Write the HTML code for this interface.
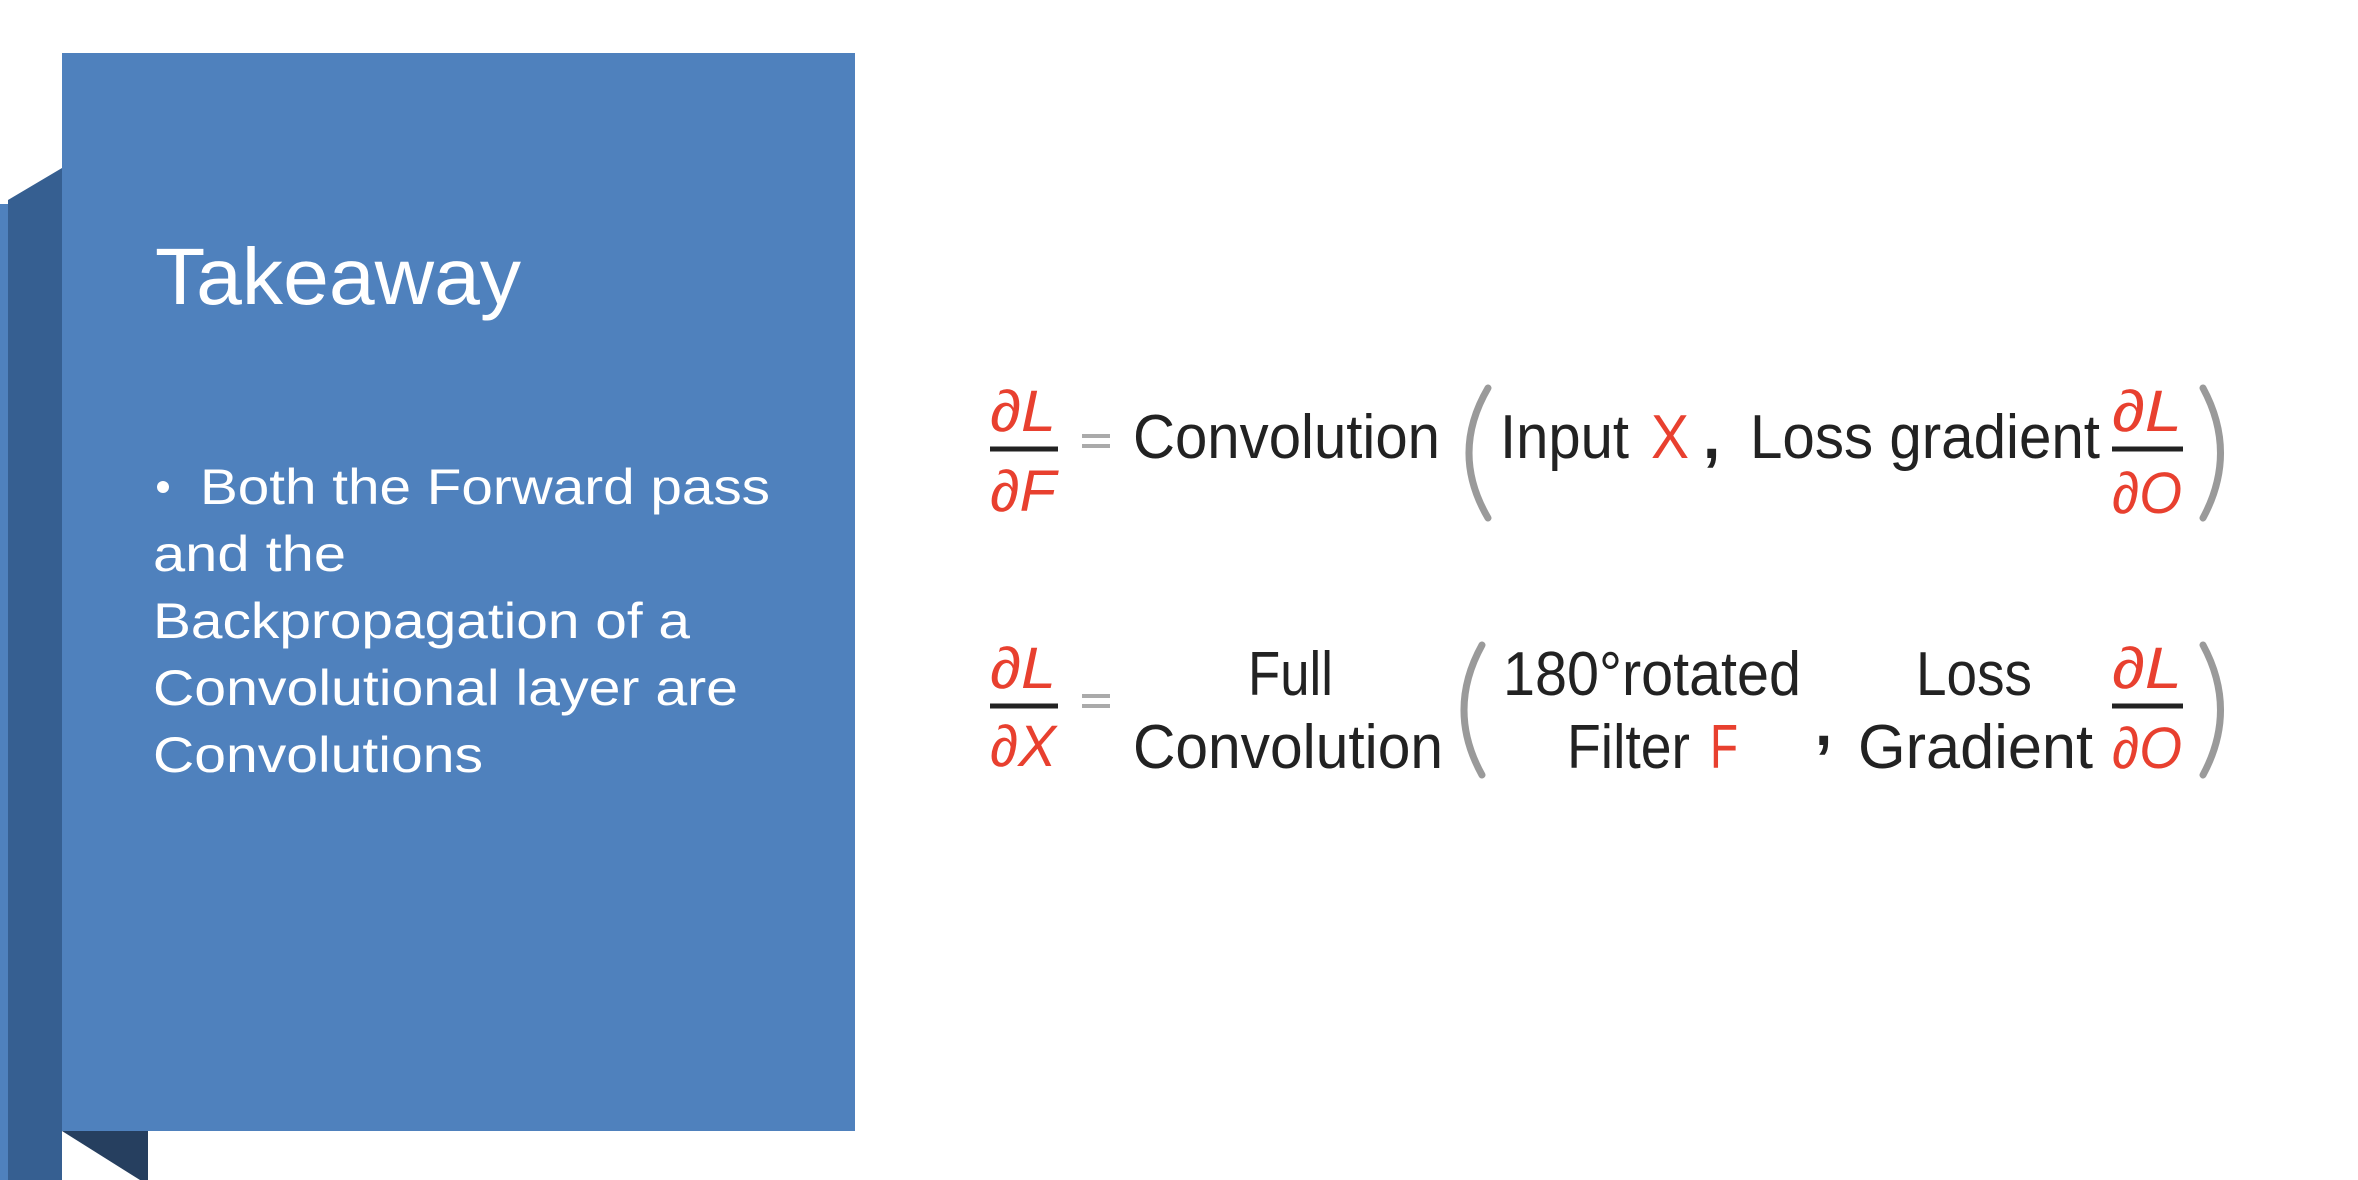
<!DOCTYPE html>
<html><head><meta charset="utf-8"><style>
html,body{margin:0;padding:0;background:#fff;}
body{width:2358px;height:1180px;position:relative;overflow:hidden;font-family:"Liberation Sans",sans-serif;}
</style></head><body>
<svg width="2358" height="1180" style="position:absolute;left:0;top:0">
  <polygon points="0,204 8,204 8,1180 0,1180" fill="#4f81bd"/>
  <polygon points="8,200 62,168 62,1180 8,1180" fill="#365f91"/>
  <polygon points="62,1131 148,1131 148,1180 140,1180" fill="#263f5f"/>
  <rect x="62" y="53" width="793" height="1078" fill="#4f81bd"/>
  <text x="155" y="304" font-size="80" fill="#fff" textLength="366" lengthAdjust="spacingAndGlyphs">Takeaway</text>
  <g font-size="50" fill="#fff">
    <circle cx="163" cy="487" r="6"/>
    <text x="200" y="504" textLength="570" lengthAdjust="spacingAndGlyphs">Both the Forward pass</text>
    <text x="153" y="571" textLength="193" lengthAdjust="spacingAndGlyphs">and the</text>
    <text x="153" y="638" textLength="537" lengthAdjust="spacingAndGlyphs">Backpropagation of a</text>
    <text x="153" y="705" textLength="585" lengthAdjust="spacingAndGlyphs">Convolutional layer are</text>
    <text x="153" y="772" textLength="330" lengthAdjust="spacingAndGlyphs">Convolutions</text>
  </g>
  <g fill="#e8402f" font-size="58" font-style="italic">
    <text x="990" y="431" textLength="66" lengthAdjust="spacingAndGlyphs">∂L</text>
    <text x="990" y="511" textLength="66" lengthAdjust="spacingAndGlyphs">∂F</text>
    <text x="2112" y="431" textLength="70" lengthAdjust="spacingAndGlyphs">∂L</text>
    <text x="2112" y="513" textLength="70" lengthAdjust="spacingAndGlyphs">∂O</text>
    <text x="990" y="688" textLength="66" lengthAdjust="spacingAndGlyphs">∂L</text>
    <text x="990" y="766" textLength="66" lengthAdjust="spacingAndGlyphs">∂X</text>
    <text x="2112" y="688" textLength="70" lengthAdjust="spacingAndGlyphs">∂L</text>
    <text x="2112" y="768" textLength="70" lengthAdjust="spacingAndGlyphs">∂O</text>
  </g>
  <g stroke="#222" stroke-width="5">
    <line x1="990" y1="449" x2="1058" y2="449"/>
    <line x1="2112" y1="449" x2="2183" y2="449"/>
    <line x1="990" y1="706" x2="1058" y2="706"/>
    <line x1="2112" y1="706" x2="2183" y2="706"/>
  </g>
  <g stroke="#aaa" stroke-width="4">
    <line x1="1082" y1="436" x2="1110" y2="436"/><line x1="1082" y1="446" x2="1110" y2="446"/>
    <line x1="1082" y1="696" x2="1110" y2="696"/><line x1="1082" y1="706" x2="1110" y2="706"/>
  </g>
  <g fill="none" stroke="#9a9a9a" stroke-width="7" stroke-linecap="round">
    <path d="M1488,388 Q1450,453 1488,518"/>
    <path d="M2203,388 Q2238,453 2203,518"/>
    <path d="M1482,645 Q1446,710 1482,775"/>
    <path d="M2203,645 Q2238,710 2203,775"/>
  </g>
  <g fill="#222" font-size="62">
    <text x="1133" y="458" textLength="307" lengthAdjust="spacingAndGlyphs">Convolution</text>
    <text x="1500" y="458" textLength="129" lengthAdjust="spacingAndGlyphs">Input</text>
    <text x="1703" y="458" font-weight="bold">,</text>
    <text x="1750" y="458" textLength="350" lengthAdjust="spacingAndGlyphs">Loss gradient</text>
    <text x="1248" y="695" textLength="85" lengthAdjust="spacingAndGlyphs">Full</text>
    <text x="1133" y="768" textLength="310" lengthAdjust="spacingAndGlyphs">Convolution</text>
    <text x="1503" y="695" textLength="298" lengthAdjust="spacingAndGlyphs">180°rotated</text>
    <text x="1567" y="768" textLength="123" lengthAdjust="spacingAndGlyphs">Filter</text>
    <text x="1815" y="745" font-weight="bold">,</text>
    <text x="1916" y="695" textLength="116" lengthAdjust="spacingAndGlyphs">Loss</text>
    <text x="1858" y="768" textLength="235" lengthAdjust="spacingAndGlyphs">Gradient</text>
  </g>
  <g fill="#e8402f" font-size="62">
    <text x="1651" y="458" textLength="38" lengthAdjust="spacingAndGlyphs">X</text>
    <text x="1710" y="768" textLength="28" lengthAdjust="spacingAndGlyphs">F</text>
  </g>
</svg>
</body></html>
